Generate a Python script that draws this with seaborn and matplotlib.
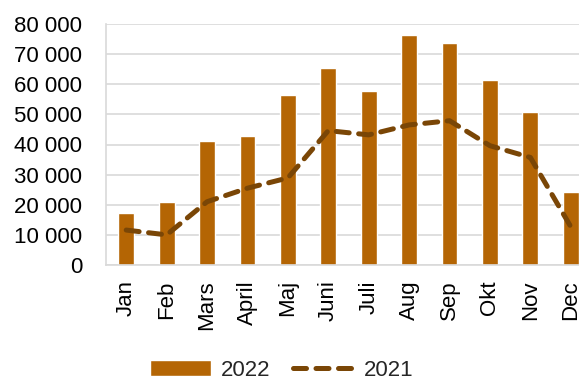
import matplotlib
matplotlib.use("Agg")
import matplotlib.pyplot as plt
import seaborn as sns
import pandas as pd
from matplotlib.ticker import FuncFormatter

months = ["Jan", "Feb", "Mars", "April", "Maj", "Juni", "Juli", "Aug", "Sep", "Okt", "Nov", "Dec"]
values_2022 = [17200, 20900, 41300, 42800, 56500, 65500, 57800, 76400, 73600, 61400, 50900, 24200]
values_2021 = [11600, 10000, 21000, 25500, 28900, 44600, 43200, 46500, 47900, 39600, 35700, 12700]
yticks = [0, 10000, 20000, 30000, 40000, 50000, 60000, 70000, 80000]

df = pd.DataFrame({"month": months, "v2022": values_2022, "v2021": values_2021})

sns.set_theme(style="white")
plt.rcParams["font.family"] = ["Liberation Sans", "DejaVu Sans"]

fig = plt.figure(figsize=(5.79, 3.78), dpi=100)
ax = fig.add_axes([106 / 579, 1 - 265 / 378, 485 / 579, 241 / 378])

bar_color = "#B46504"
line_color = "#7A4606"

sns.barplot(data=df, x="month", y="v2022", color=bar_color, width=0.39,
            saturation=1, label="2022", ax=ax, zorder=2)
sns.lineplot(data=df, x="month", y="v2021", color=line_color, linewidth=3.6,
             linestyle=(0, (2.6, 1.9)), dash_capstyle="round", label="2021",
             ax=ax, zorder=3)

ax.set_ylim(0, 80000)
ax.set_xlim(-0.5, 11.5)
ax.set_yticks(yticks)
ax.yaxis.set_major_formatter(FuncFormatter(lambda v, p: f"{int(v):,}".replace(",", " ")))
ax.grid(axis="y", color="#D9D9D9", linewidth=1.2, zorder=0)
ax.set_axisbelow(True)
for side in ["top", "right"]:
    ax.spines[side].set_visible(False)
for side in ["left", "bottom"]:
    ax.spines[side].set_color("#D9D9D9")
    ax.spines[side].set_linewidth(1.2)

ax.tick_params(axis="y", length=0, pad=17, labelsize=16, labelcolor="black")
ax.tick_params(axis="x", length=0, pad=11, labelsize=16, labelcolor="black", rotation=90)
ax.set_xlabel("")
ax.set_ylabel("")

handles, labels = ax.get_legend_handles_labels()
if ax.get_legend() is not None:
    ax.get_legend().remove()
order = [labels.index("2022"), labels.index("2021")]
handles = [handles[i] for i in order]
labels = [labels[i] for i in order]
fig.legend(handles, labels, loc="center", bbox_to_anchor=(0.487, 0.02), ncol=2,
           frameon=False, fontsize=16, handlelength=2.75, columnspacing=1.0,
           handletextpad=0.45)

fig.savefig("out.png", dpi=100)
